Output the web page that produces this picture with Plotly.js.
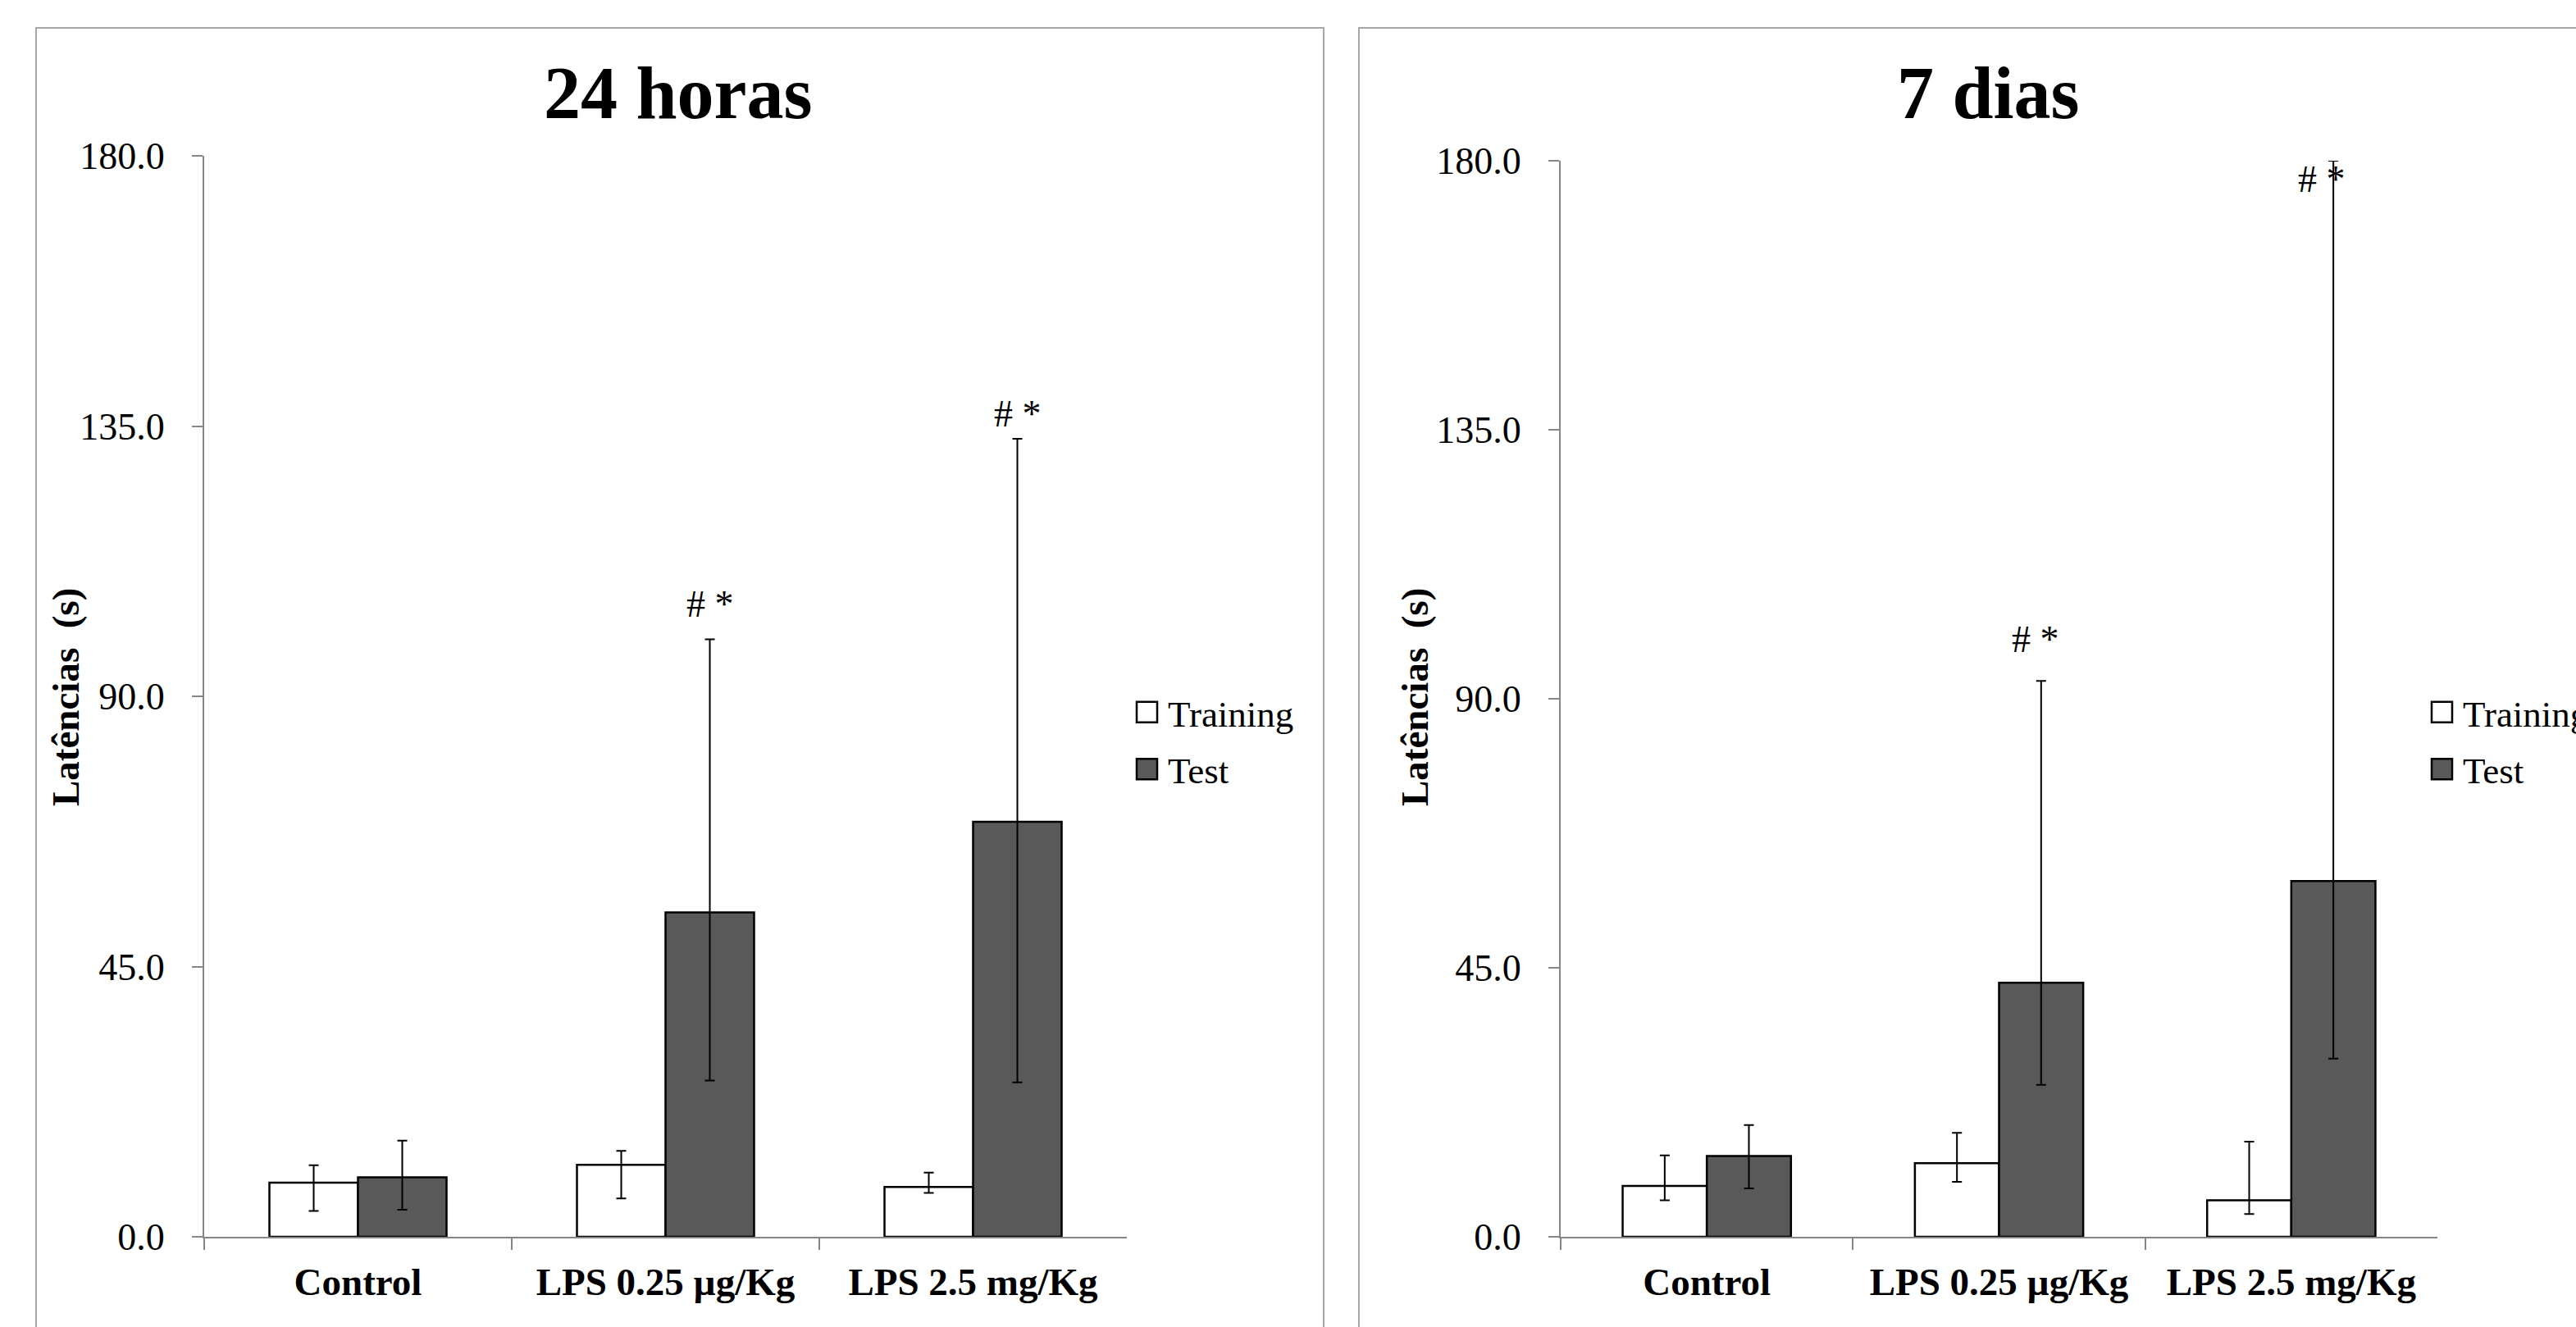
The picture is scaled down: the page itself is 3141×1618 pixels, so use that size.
<!DOCTYPE html>
<html>
<head>
<meta charset="utf-8">
<script src="https://cdn.plot.ly/plotly-3.0.1.min.js"></script>
<style>
html,body{margin:0;padding:0;background:#fff;overflow:hidden;width:3141px;height:1618px;}
#chart{width:3141px;height:1618px;overflow:hidden;position:relative;}
</style>
</head>
<body>
<div id="chart"></div>
<script>
// ---- data ----
const categories = ['Control', 'LPS 0.25 µg/Kg', 'LPS 2.5 mg/Kg'];
const seriesNames = ['Training', 'Test'];
const panelTitles = ['24 horas', '7 dias'];
const yTicks = [0, 45, 90, 135, 180];

// 24 horas
const h24Training = [9.0, 12.0, 8.3];
const h24TrainingErrPlus = [2.9, 2.3, 2.4];
const h24TrainingErrMinus = [4.7, 5.6, 1.0];
const h24Test = [9.9, 54.0, 69.1];
const h24TestErrPlus = [6.1, 45.5, 63.8];
const h24TestErrMinus = [5.4, 28.0, 43.4];
const h24SigLabel = ['', '# *', '# *'];
const h24SigY = [null, 105.3, 137.0];

// 7 dias
const d7Training = [8.5, 12.3, 6.1];
const d7TrainingErrPlus = [5.1, 5.1, 9.8];
const d7TrainingErrMinus = [2.4, 3.1, 2.3];
const d7Test = [13.5, 42.5, 59.5];
const d7TestErrPlus = [5.2, 50.5, 120.5];
const d7TestErrMinus = [5.4, 17.1, 29.7];
const d7SigLabel = ['', '# *', '# *'];
const d7SigY = [null, 99.9, 176.9];

// ---- styling ----
const FONT = 'Liberation Serif, Times New Roman, serif';
const trainFill = '#ffffff';
const testFill = '#595959';
const axisGray = '#868686';

function errBar(plus, minus) {
  return {type: 'data', symmetric: false, array: plus, arrayminus: minus,
          color: '#000', thickness: 2, width: 6};
}
function barTrace(name, y, plus, minus, fill, xa, ya, leg, grp) {
  return {
    type: 'bar', name: name, x: categories, y: y,
    xaxis: xa, yaxis: ya, legend: leg, legendgroup: grp,
    marker: {color: fill, line: {color: '#000', width: 2.5}},
    error_y: errBar(plus, minus),
    hoverinfo: 'skip'
  };
}

const traces = [
  barTrace(seriesNames[0], h24Training, h24TrainingErrPlus, h24TrainingErrMinus, trainFill, 'x', 'y', 'legend', 'a'),
  barTrace(seriesNames[1], h24Test, h24TestErrPlus, h24TestErrMinus, testFill, 'x', 'y', 'legend', 'b'),
  barTrace(seriesNames[0], d7Training, d7TrainingErrPlus, d7TrainingErrMinus, trainFill, 'x2', 'y2', 'legend2', 'c'),
  barTrace(seriesNames[1], d7Test, d7TestErrPlus, d7TestErrMinus, testFill, 'x2', 'y2', 'legend2', 'd')
];

const W = 3141, H = 1618;
const px = v => v / W;
const py = v => 1 - v / H;

// bar geometry: test bar centre offset within a category (fraction of category)
const BARGAP = 0.424;
const testOffset = (1 - BARGAP) / 4;

function xAxis(domain) {
  return {
    domain: domain, type: 'category', range: [-0.5, 2.5],
    showline: true, linecolor: axisGray, linewidth: 2,
    ticks: 'outside', tickson: 'boundaries', ticklen: 14, tickcolor: axisGray, tickwidth: 2,
    showgrid: false, zeroline: false, fixedrange: true,
    tickfont: {family: FONT, size: 47, color: '#000', weight: 'bold'},
    ticklabelstandoff: 13
  };
}
function yAxis(domain, anchor) {
  return {
    domain: domain, anchor: anchor, range: [0, 180],
    tickmode: 'array', tickvals: yTicks, tickformat: '.1f',
    showline: true, linecolor: axisGray, linewidth: 2,
    ticks: 'outside', ticklen: 13, tickcolor: axisGray, tickwidth: 2,
    showgrid: false, zeroline: false, fixedrange: true,
    tickfont: {family: FONT, size: 46, color: '#000'},
    ticklabelstandoff: 24
  };
}

const annotations = [];
// panel titles
[[827, panelTitles[0]], [2424, panelTitles[1]]].forEach(([cx, t]) => {
  annotations.push({xref: 'paper', yref: 'paper', x: px(cx), y: py(114),
    xanchor: 'center', yanchor: 'middle', showarrow: false, text: t,
    font: {family: FONT, size: 90, color: '#000', weight: 'bold'}});
});
// y axis titles
[80, 1725].forEach(cx => {
  annotations.push({xref: 'paper', yref: 'paper', x: px(cx), y: py(850),
    xanchor: 'center', yanchor: 'middle', showarrow: false, textangle: -90,
    text: 'Latências\u00a0 (s)',
    font: {family: FONT, size: 47, color: '#000', weight: 'bold'}});
});
// significance labels
function sig(labels, ys, xr, yr, shifts) {
  labels.forEach((t, i) => {
    if (!t) return;
    annotations.push({xref: xr, yref: yr, x: i + testOffset, y: ys[i],
      xanchor: 'center', yanchor: 'middle', showarrow: false, text: t, xshift: shifts[i],
      font: {family: FONT, size: 46, color: '#000'}});
  });
}
sig(h24SigLabel, h24SigY, 'x', 'y', [0, 0, 0]);
sig(d7SigLabel, d7SigY, 'x2', 'y2', [0, -7, -14]);

const shapes = [
  {type: 'rect', xref: 'paper', yref: 'paper', x0: px(44), x1: px(1614), y0: -0.05, y1: py(34),
   line: {color: '#a6a6a6', width: 2}, fillcolor: 'rgba(0,0,0,0)', layer: 'below'},
  {type: 'rect', xref: 'paper', yref: 'paper', x0: px(1657), x1: 1.05, y0: -0.05, y1: py(34),
   line: {color: '#a6a6a6', width: 2}, fillcolor: 'rgba(0,0,0,0)', layer: 'below'}
];

const legendBase = {
  orientation: 'v', yanchor: 'middle', xanchor: 'left', y: py(903),
  font: {family: FONT, size: 45, color: '#000'},
  bgcolor: 'rgba(0,0,0,0)', borderwidth: 0, tracegroupgap: 8, traceorder: 'grouped'
};

const layout = {
  width: W, height: H,
  margin: {l: 0, r: 0, t: 0, b: 0, pad: 0, autoexpand: false},
  paper_bgcolor: '#fff', plot_bgcolor: 'rgba(0,0,0,0)',
  barmode: 'group', bargap: BARGAP, bargroupgap: 0,
  showlegend: true,
  xaxis: Object.assign(xAxis([px(249), px(1374)]), {anchor: 'y'}),
  yaxis: yAxis([1 - 1508 / H, py(190)], 'x'),
  xaxis2: Object.assign(xAxis([px(1903), px(2972)]), {anchor: 'y2'}),
  yaxis2: yAxis([1 - 1508 / H, py(196)], 'x2'),
  legend: Object.assign({}, legendBase, {x: px(1384)}),
  legend2: Object.assign({}, legendBase, {x: px(2963)}),
  annotations: annotations,
  shapes: shapes
};

function bigLegendSymbols() {
  document.querySelectorAll('.legendpoints path').forEach(p => {
    p.setAttribute('d', 'M7,12.5H-18V-12.5H7Z');
  });
}

Plotly.newPlot('chart', traces, layout, {displayModeBar: false, responsive: false}).then(gd => {
  bigLegendSymbols();
  gd.on('plotly_afterplot', bigLegendSymbols);
});
</script>
</body>
</html>
